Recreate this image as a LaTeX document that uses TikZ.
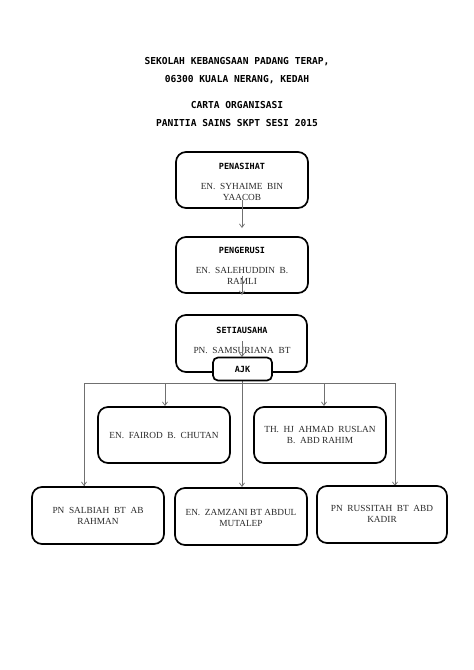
\documentclass[tikz,border=0pt]{standalone}
\usepackage{fontspec}
\setmainfont{Liberation Serif}
\newfontfamily\monob{DejaVu Sans Mono}
\usetikzlibrary{arrows.meta}
\definecolor{conn}{HTML}{707070}
\definecolor{txt}{HTML}{2A2A2A}
\tikzset{
  rbox/.style={draw=black, line width=1.7pt, rounded corners=10pt},
  ttl/.style={font=\monob\bfseries\fontsize{9.6}{11.5}\selectfont, align=center, inner sep=0pt},
  lbl/.style={font=\monob\bfseries\fontsize{8.5}{10}\selectfont, inner sep=0pt},
  nm/.style={font=\fontsize{9.3}{11}\selectfont, text=txt, align=center, inner sep=0pt},
  conline/.style={draw=conn, line width=0.7pt},
  conarrow/.style={conline, -{Straight Barb[length=3.5pt,width=5pt]}},
}
\begin{document}
\begin{tikzpicture}[x=1pt,y=-1pt]
\useasboundingbox[fill=white] (0,0) rectangle (474,670);
% titles
\node[ttl] (t1) at (237,62) {SEKOLAH KEBANGSAAN PADANG TERAP,};
\node[ttl] (t2) at (237,80) {06300 KUALA NERANG, KEDAH};
\node[ttl] (t3) at (237,105) {CARTA ORGANISASI};
\node[ttl] (t4) at (237,123) {PANITIA SAINS SKPT SESI 2015};
% boxes
\draw[rbox] (176,152) rectangle (308,208);
\node[lbl] (l1) at (242,166) {PENASIHAT};
\node[nm] (n1) at (242,191.5) {EN.\ \ SYHAIME\ \ BIN\\YAACOB};
\draw[rbox] (176,237) rectangle (308,293);
\node[lbl] (l2) at (242,250) {PENGERUSI};
\node[nm] (n2) at (242,275.5) {EN.\ \ SALEHUDDIN\ \ B.\\RAMLI};
\draw[rbox] (176,315) rectangle (307,372);
\node[lbl] (l3) at (242,330) {SETIAUSAHA};
\node[nm] (n3) at (242,350) {PN.\ \ SAMSURIANA\ \ BT};
% arrows in column
\coordinate (a1s) at (242,200);
\coordinate (a1e) at (242,228);
\draw[conarrow] (a1s) -- (a1e);
\coordinate (a2s) at (242,276);
\coordinate (a2e) at (242,295);
\draw[conarrow] (a2s) -- (a2e);
\coordinate (a3s) at (242,341);
\coordinate (a3e) at (242,357);
\draw[conarrow] (a3s) -- (a3e);
% horizontal bus
\coordinate (bl) at (84,383);
\coordinate (br) at (395,383);
\coordinate (bc) at (242,383);
\draw[conline] (84,486) -- (bl) -- (br) -- (395,486);
\coordinate (bll) at (84,486);
\coordinate (brr) at (395,486);
\draw[conarrow] (84,470) -- (bll);
\draw[conarrow] (395,470) -- (brr);
\coordinate (fl) at (165,383);
\coordinate (fr) at (324,383);
\coordinate (fle) at (165,406);
\coordinate (fre) at (324,406);
\draw[conarrow] (fl) -- (fle);
\draw[conarrow] (fr) -- (fre);
\coordinate (ce) at (242,487);
\draw[conarrow] (242,380) -- (ce);
% AJK
\node[draw=black, line width=1.7pt, rounded corners=5pt, fill=white, minimum width=59pt, minimum height=23pt, lbl] (ajk) at (242.5,369) {AJK};
% middle row
\draw[rbox] (98,407) rectangle (230,463);
\node[nm] (n4) at (164,435) {EN.\ \ FAIROD\ \ B.\ \ CHUTAN};
\draw[rbox] (254,407) rectangle (386,463);
\node[nm] (n5) at (320,434.5) {TH.\ \ HJ\ \ AHMAD\ \ RUSLAN\\B.\ \ ABD\ RAHIM};
% bottom row
\draw[rbox] (32,487) rectangle (164,544);
\node[nm] (n6) at (98,515.5) {PN\ \ SALBIAH\ \ BT\ \ AB\\RAHMAN};
\draw[rbox] (175,488) rectangle (307,545);
\node[nm] (n7) at (241,517.5) {EN.\ \ ZAMZANI\ BT\ ABDUL\\MUTALEP};
\draw[rbox] (317,486) rectangle (447,543);
\node[nm] (n8) at (382,513.5) {PN\ \ RUSSITAH\ \ BT\ \ ABD\\KADIR};
\end{tikzpicture}
\end{document}
